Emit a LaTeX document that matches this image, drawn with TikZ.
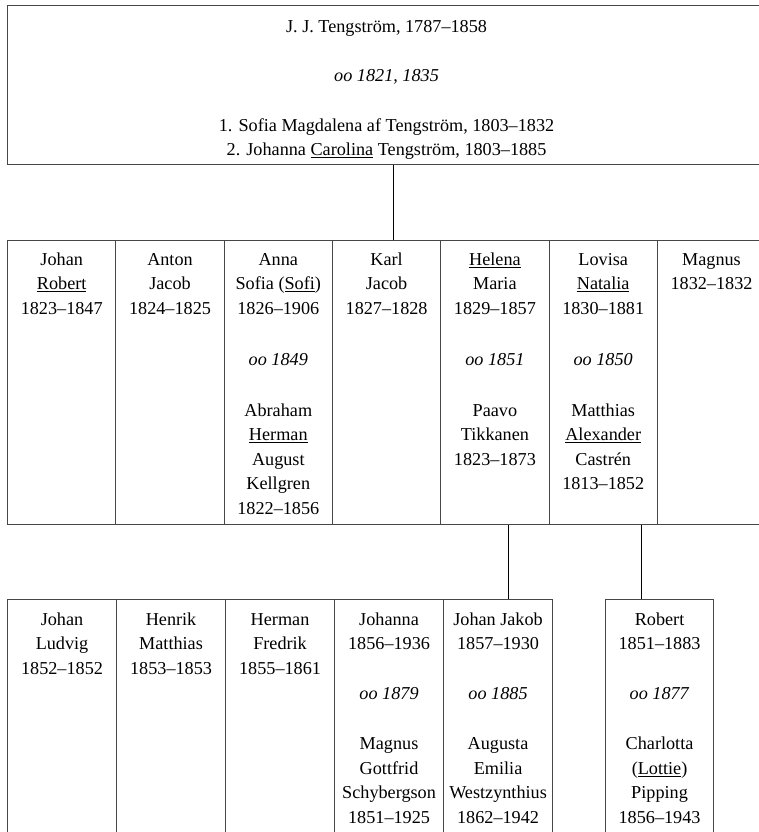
\documentclass[tikz,border=0pt]{standalone}
\usepackage{fontspec}
\setmainfont{Liberation Serif}
\begin{document}
\begin{tikzpicture}[x=1pt,y=-1pt,
  cell/.style={draw=black!72, line width=1.1pt, inner sep=0pt, anchor=north west, minimum height=284pt, minimum width=108.3pt},
  kid/.style={draw=black!72, line width=1.1pt, inner sep=0pt, anchor=north west, minimum height=260pt, minimum width=109pt},
  txt/.style={align=center, inner sep=0pt, anchor=north, font=\fontsize{18.2}{24.5}\selectfont},
  link/.style={draw=black, line width=1pt}]
\useasboundingbox (0,0) rectangle (758,832);
% top box
\node[draw=black!72, line width=1.1pt, inner sep=0pt, anchor=north west, minimum width=758pt, minimum height=159pt] (top) at (7,5) {};
\node[txt, font=\fontsize{18.2}{23.5}\selectfont] (toptxt) at ([yshift=-11pt]top.north) {\strut J. J. Tengström, 1787–1858\\[25pt]\textit{oo 1821, 1835}\\[27pt]1. Sofia Magdalena af Tengström, 1803–1832\\2. Johanna \underline{Carolina} Tengström, 1803–1885};
% second row
\node[cell] (c1) at (7,240) {};
\node[cell] (c2) at (115.3,240) {};
\node[cell] (c3) at (223.6,240) {};
\node[cell] (c4) at (331.9,240) {};
\node[cell] (c5) at (440.2,240) {};
\node[cell] (c6) at (548.5,240) {};
\node[cell] (c7) at (656.8,240) {};
\node[txt] (t1) at ([yshift=-8pt]c1.north) {\strut Johan\\\underline{Robert}\\1823–1847};
\node[txt] (t2) at ([yshift=-8pt]c2.north) {\strut Anton\\Jacob\\1824–1825};
\node[txt] (t3) at ([yshift=-8pt]c3.north) {\strut Anna\\Sofia (\underline{Sofi})\\1826–1906\\[26.5pt]\textit{oo 1849}\\[26.5pt]Abraham\\\underline{Herman}\\August\\Kellgren\\1822–1856};
\node[txt] (t4) at ([yshift=-8pt]c4.north) {\strut Karl\\Jacob\\1827–1828};
\node[txt] (t5) at ([yshift=-8pt]c5.north) {\strut\underline{Helena}\\Maria\\1829–1857\\[26.5pt]\textit{oo 1851}\\[26.5pt]Paavo\\Tikkanen\\1823–1873};
\node[txt] (t6) at ([yshift=-8pt]c6.north) {\strut Lovisa\\\underline{Natalia}\\1830–1881\\[26.5pt]\textit{oo 1850}\\[26.5pt]Matthias\\\underline{Alexander}\\Castrén\\1813–1852};
\node[txt] (t7) at ([yshift=-8pt]c7.north) {\strut Magnus\\1832–1832};
% third row
\node[kid] (d1) at (7,599) {};
\node[kid] (d2) at (116,599) {};
\node[kid] (d3) at (225,599) {};
\node[kid] (d4) at (334,599) {};
\node[kid] (d5) at (443,599) {};
\node[kid, minimum width=108pt] (d6) at (605,599) {};
\node[txt] (u1) at ([yshift=-9pt]d1.north) {\strut Johan\\Ludvig\\1852–1852};
\node[txt] (u2) at ([yshift=-9pt]d2.north) {\strut Henrik\\Matthias\\1853–1853};
\node[txt] (u3) at ([yshift=-9pt]d3.north) {\strut Herman\\Fredrik\\1855–1861};
\node[txt] (u4) at ([yshift=-9pt]d4.north) {\strut Johanna\\1856–1936\\[25.5pt]\textit{oo 1879}\\[25.5pt]Magnus\\Gottfrid\\Schybergson\\1851–1925};
\node[txt] (u5) at ([yshift=-9pt]d5.north) {\strut Johan Jakob\\1857–1930\\[25.5pt]\textit{oo 1885}\\[25.5pt]Augusta\\Emilia\\Westzynthius\\1862–1942};
\node[txt] (u6) at ([yshift=-9pt]d6.north) {\strut Robert\\1851–1883\\[25.5pt]\textit{oo 1877}\\[25.5pt]Charlotta\\(\underline{Lottie})\\Pipping\\1856–1943};
% connectors
\coordinate (ja) at (393,0);
\coordinate (jb) at (508,0);
\coordinate (jc) at (641,0);
\draw[link] (top.south -| ja) -- (c4.north -| ja);
\draw[link] (c5.south -| jb) -- (d5.north -| jb);
\draw[link] (c6.south -| jc) -- (d6.north -| jc);
\end{tikzpicture}
\end{document}
